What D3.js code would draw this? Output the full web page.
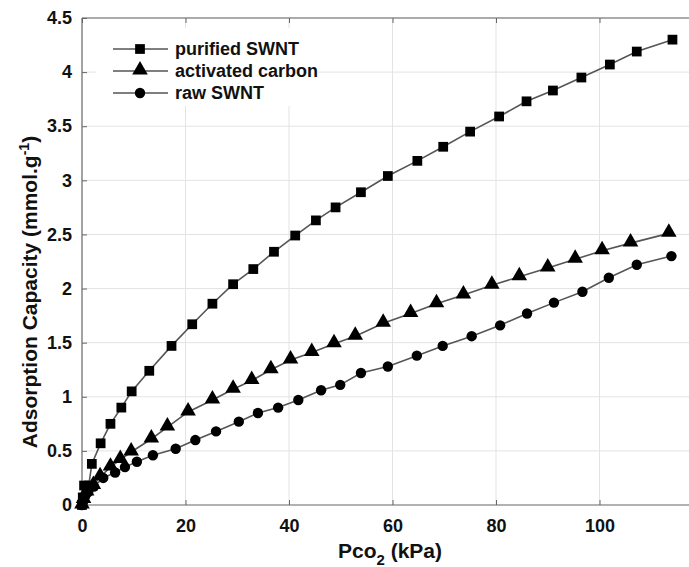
<!DOCTYPE html>
<html>
<head>
<meta charset="utf-8">
<script src="https://cdn.jsdelivr.net/npm/d3@7"></script>
<style>
  body { margin: 0; background: #fff; }
  text { font-family: "Liberation Sans", Arial, sans-serif; font-weight: bold; }
</style>
</head>
<body>
<div id="chart"></div>
<script>
// values: [Pco2 kPa, capacity mmol/g]
const purified = [[0,0],[0.15,0.07],[0.4,0.18],[1.3,0.18],[1.9,0.38],[3.6,0.57],[5.5,0.75],[7.6,0.9],[9.6,1.05],
  [13.0,1.24],[17.3,1.47],[21.3,1.67],[25.2,1.86],[29.2,2.04],[33.1,2.18],[37.1,2.34],[41.2,2.49],[45.2,2.63],
  [49.0,2.75],[53.9,2.89],[59.1,3.04],[64.8,3.18],[69.8,3.31],[75.0,3.45],[80.6,3.59],[85.9,3.73],[91.0,3.83],
  [96.5,3.95],[102.0,4.07],[107.2,4.19],[114.1,4.30]];
const activated = [[0,0],[0.3,0.05],[0.9,0.12],[2.2,0.18],[3.5,0.26],[5.5,0.35],[7.4,0.42],[9.5,0.49],[13.4,0.61],
  [16.5,0.72],[20.5,0.86],[25.2,0.97],[29.2,1.07],[32.8,1.15],[36.5,1.25],[40.3,1.34],[44.4,1.41],[48.7,1.49],
  [52.8,1.56],[58.2,1.68],[63.5,1.77],[68.5,1.86],[73.7,1.94],[79.2,2.03],[84.5,2.11],[90.0,2.19],[95.3,2.27],
  [100.5,2.35],[106.0,2.42],[113.4,2.51]];
const raw = [[0,0],[0.2,0.03],[0.6,0.08],[1.2,0.12],[2.3,0.17],[4.1,0.25],[6.4,0.30],[8.3,0.35],[10.6,0.40],
  [13.7,0.46],[18.1,0.52],[21.9,0.60],[25.9,0.68],[30.3,0.77],[34.0,0.85],[37.9,0.90],[41.8,0.97],[46.2,1.06],
  [49.9,1.11],[53.9,1.22],[59.1,1.28],[64.7,1.38],[69.7,1.47],[75.3,1.56],[80.8,1.66],[86.0,1.77],[91.2,1.87],
  [96.7,1.97],[101.8,2.10],[107.2,2.22],[113.9,2.30]];

const seriesNames = ["purified SWNT", "activated carbon", "raw SWNT"];
const xTicks = [0, 20, 40, 60, 80, 100];
const yTicks = [0, 0.5, 1, 1.5, 2, 2.5, 3, 3.5, 4, 4.5];

const W = 689, H = 567;
const margin = {top: 18, left: 82, bottom: 62};
const plotW = 621; // runs past the right edge like the cropped original (0..120)
const plotH = H - margin.top - margin.bottom;

const svg = d3.select("#chart").append("svg")
  .attr("width", W).attr("height", H);

const g = svg.append("g")
  .attr("transform", "translate(" + margin.left + "," + margin.top + ")");

const x = d3.scaleLinear().domain([0, 120]).range([0, plotW]);
const y = d3.scaleLinear().domain([0, 4.5]).range([plotH, 0]);

// grid
g.append("g").selectAll("line").data(xTicks.slice(1).concat([120])).enter().append("line")
  .attr("x1", d => x(d)).attr("x2", d => x(d))
  .attr("y1", 0).attr("y2", plotH)
  .attr("stroke", "#e3e3e3").attr("stroke-width", 1);
g.append("g").selectAll("line").data(yTicks.slice(1)).enter().append("line")
  .attr("x1", 0).attr("x2", plotW)
  .attr("y1", d => y(d)).attr("y2", d => y(d))
  .attr("stroke", "#e3e3e3").attr("stroke-width", 1);

// axes, ticks pointing inward
const axisColor = "#666";
const xAxis = g.append("g")
  .attr("transform", "translate(0," + plotH + ")")
  .call(d3.axisBottom(x).tickValues(xTicks).tickSize(-5).tickPadding(14).tickFormat(d3.format("d")));
const yAxis = g.append("g")
  .call(d3.axisLeft(y).tickValues(yTicks).tickSize(-5).tickPadding(10).tickFormat(d => d));
const topAxis = g.append("g")
  .call(d3.axisTop(x).tickValues(xTicks).tickSize(-5).tickFormat(""));

[xAxis, yAxis, topAxis].forEach(a => {
  a.select(".domain").attr("stroke", axisColor).attr("stroke-width", 1.2);
  a.selectAll(".tick line").attr("stroke", axisColor);
  a.selectAll(".tick text").attr("fill", "#111").style("font-size", "18px");
});
topAxis.select(".domain").attr("d", "M0,0H" + plotW);
yAxis.select(".domain").attr("d", "M0," + plotH + "V0");
xAxis.select(".domain").attr("d", "M0,0H" + plotW);

// legend box (white, hides grid)
const legend = g.append("g").attr("transform", "translate(14,10)");
legend.append("rect").attr("width", 222).attr("height", 78).attr("fill", "#fff");

// lines
const line = d3.line().x(d => x(d[0])).y(d => y(d[1]));
const allSeries = [purified, activated, raw];
allSeries.forEach(s => {
  g.append("path").datum(s)
    .attr("d", line)
    .attr("fill", "none")
    .attr("stroke", "#555")
    .attr("stroke-width", 1.6);
});

// markers
const symbols = [d3.symbolSquare, d3.symbolTriangle, d3.symbolCircle];
const sizes = [95, 105, 85];
allSeries.forEach((s, i) => {
  g.append("g").selectAll("path").data(s).enter().append("path")
    .attr("d", d3.symbol().type(symbols[i]).size(sizes[i]))
    .attr("transform", d => "translate(" + x(d[0]) + "," + y(d[1]) + ")" + (i === 1 ? " translate(0,-1)" : ""))
    .attr("fill", "#000");
});

// legend entries
seriesNames.forEach((name, i) => {
  const row = legend.append("g").attr("transform", "translate(0," + (21 + i * 22) + ")");
  row.append("line").attr("x1", 17).attr("x2", 72).attr("stroke", "#555").attr("stroke-width", 1.6);
  row.append("path")
    .attr("d", d3.symbol().type(symbols[i]).size(sizes[i]))
    .attr("transform", "translate(44," + (i === 1 ? -1 : 0) + ")")
    .attr("fill", "#000");
  row.append("text").attr("x", 79).attr("y", 6)
    .style("font-size", "18px").attr("fill", "#111").text(name);
});

// axis titles
const xLabel = svg.append("text")
  .attr("x", 390).attr("y", 558)
  .attr("text-anchor", "middle").style("font-size", "21px").attr("fill", "#111");
xLabel.append("tspan").text("Pco");
xLabel.append("tspan").attr("dy", 7).style("font-size", "15px").text("2");
xLabel.append("tspan").attr("dy", -7).text(" (kPa)");

const yLabel = svg.append("text")
  .attr("transform", "translate(37,292) rotate(-90)")
  .attr("text-anchor", "middle").style("font-size", "21px").attr("fill", "#111");
yLabel.append("tspan").text("Adsorption Capacity (mmol.g");
yLabel.append("tspan").attr("dy", -8).style("font-size", "14px").text("-1");
yLabel.append("tspan").attr("dy", 8).text(")");
</script>
</body>
</html>
